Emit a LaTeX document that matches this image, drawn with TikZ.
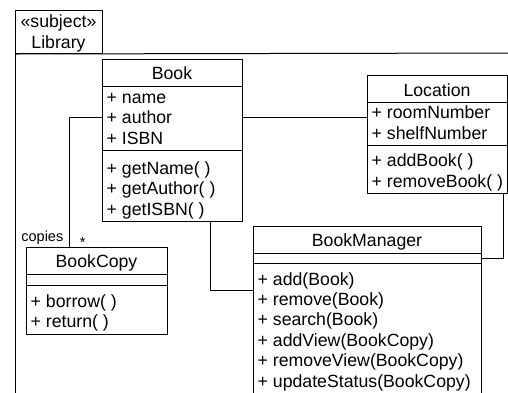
\documentclass[tikz,border=0pt]{standalone}
\usepackage{fontspec}
\setmainfont{Liberation Sans}
\usetikzlibrary{positioning}
\newcommand{\umlfont}{\fontsize{17.7}{20}\selectfont}
\newcommand{\multfont}{\fontsize{14.5}{16}\selectfont}
\tikzstyle{classbox} = [rectangle, draw=black, line width=1pt, anchor=north west, inner sep=0pt]
\tikzstyle{classname} = [anchor=base, inner sep=0pt, font=\umlfont]
\tikzstyle{member} = [anchor=base west, inner sep=0pt, font=\umlfont]
\tikzstyle{endlabel} = [anchor=base, inner sep=0pt, font=\multfont]
\tikzstyle{divider} = [line width=1pt]
\tikzstyle{connect} = [line width=1pt]

\begin{document}
\begin{tikzpicture}[x=1pt,y=-1pt]
\useasboundingbox (0,0) rectangle (508,392);
\clip (0,0) rectangle (508,392);

% package frame
\node (tab) [classbox, minimum width=87pt, minimum height=43pt] at (15,10) {};
\node (stereo) [classname] at (58.5,27.5) {«subject»};
\node (lib) [classname] at (58.5,48.5) {Library};
\draw [divider] (tab.south west) -- (15,400);
\draw [divider] (tab.south west) -- (520,53);

% Book
\node (book) [classbox, minimum width=140pt, minimum height=162pt] at (102,59) {};
\draw [divider] ([yshift=-27pt]book.north west) -- ([yshift=-27pt]book.north east);
\draw [divider] ([yshift=-91pt]book.north west) -- ([yshift=-91pt]book.north east);
\node (booktitle) [classname] at (172,79.5) {Book};
\node (bookname) [member] at (106.5,103) {+ name};
\node (bookauthor) [member] at (106.5,123.5) {+ author};
\node (bookisbn) [member] at (106.5,144) {+ ISBN};
\node (getname) [member] at (106.5,174) {+ getName( )};
\node (getauthor) [member] at (106.5,194.5) {+ getAuthor( )};
\node (getisbn) [member] at (106.5,215) {+ getISBN( )};

% Location
\node (location) [classbox, minimum width=140pt, minimum height=118pt] at (367,75) {};
\draw [divider] ([yshift=-27.5pt]location.north west) -- ([yshift=-27.5pt]location.north east);
\draw [divider] ([yshift=-70pt]location.north west) -- ([yshift=-70pt]location.north east);
\node (loctitle) [classname] at (437,96.5) {Location};
\node (room) [member] at (371.5,118) {+ roomNumber};
\node (shelf) [member] at (371.5,139.5) {+ shelfNumber};
\node (addbook) [member] at (371.5,166) {+ addBook( )};
\node (removebook) [member] at (371.5,187.5) {+ removeBook( )};

% BookCopy
\node (bookcopy) [classbox, minimum width=141pt, minimum height=87pt] at (26,247) {};
\draw [divider] ([yshift=-27pt]bookcopy.north west) -- ([yshift=-27pt]bookcopy.north east);
\draw [divider] ([yshift=-38pt]bookcopy.north west) -- ([yshift=-38pt]bookcopy.north east);
\node (copytitle) [classname] at (96.5,267.5) {BookCopy};
\node (borrow) [member] at (30.5,307) {+ borrow( )};
\node (return) [member] at (30.5,327.5) {+ return( )};

% BookManager
\node (manager) [classbox, minimum width=228pt, minimum height=180pt] at (253,226) {};
\draw [divider] ([yshift=-27pt]manager.north west) -- ([yshift=-27pt]manager.north east);
\draw [divider] ([yshift=-37.5pt]manager.north west) -- ([yshift=-37.5pt]manager.north east);
\node (mgrtitle) [classname] at (367,246) {BookManager};
\node (add) [member] at (257.5,285) {+ add(Book)};
\node (remove) [member] at (257.5,305.4) {+ remove(Book)};
\node (search) [member] at (257.5,325.8) {+ search(Book)};
\node (addview) [member] at (257.5,346.2) {+ addView(BookCopy)};
\node (removeview) [member] at (257.5,366.6) {+ removeView(BookCopy)};
\node (status) [member] at (257.5,387) {+ updateStatus(BookCopy)};

% associations
\coordinate (copybend) at (69,117);
\coordinate (mgrbend) at (210,290);
\coordinate (locbend) at (503,258);
\draw [connect] (book.east |- bookauthor) -- (location.west |- bookauthor);
\draw [connect] (book.west |- bookauthor) -| (copybend |- bookcopy.north);
\draw [connect] (book.south -| mgrbend) |- (manager.west |- mgrbend);
\draw [connect] (location.south -| locbend) |- (manager.east |- locbend);
\node (copies) [endlabel, anchor=base east] at (63.5,241.7) {copies};
\node (many) [endlabel] at (82.7,247.5) {*};

\end{tikzpicture}
\end{document}
